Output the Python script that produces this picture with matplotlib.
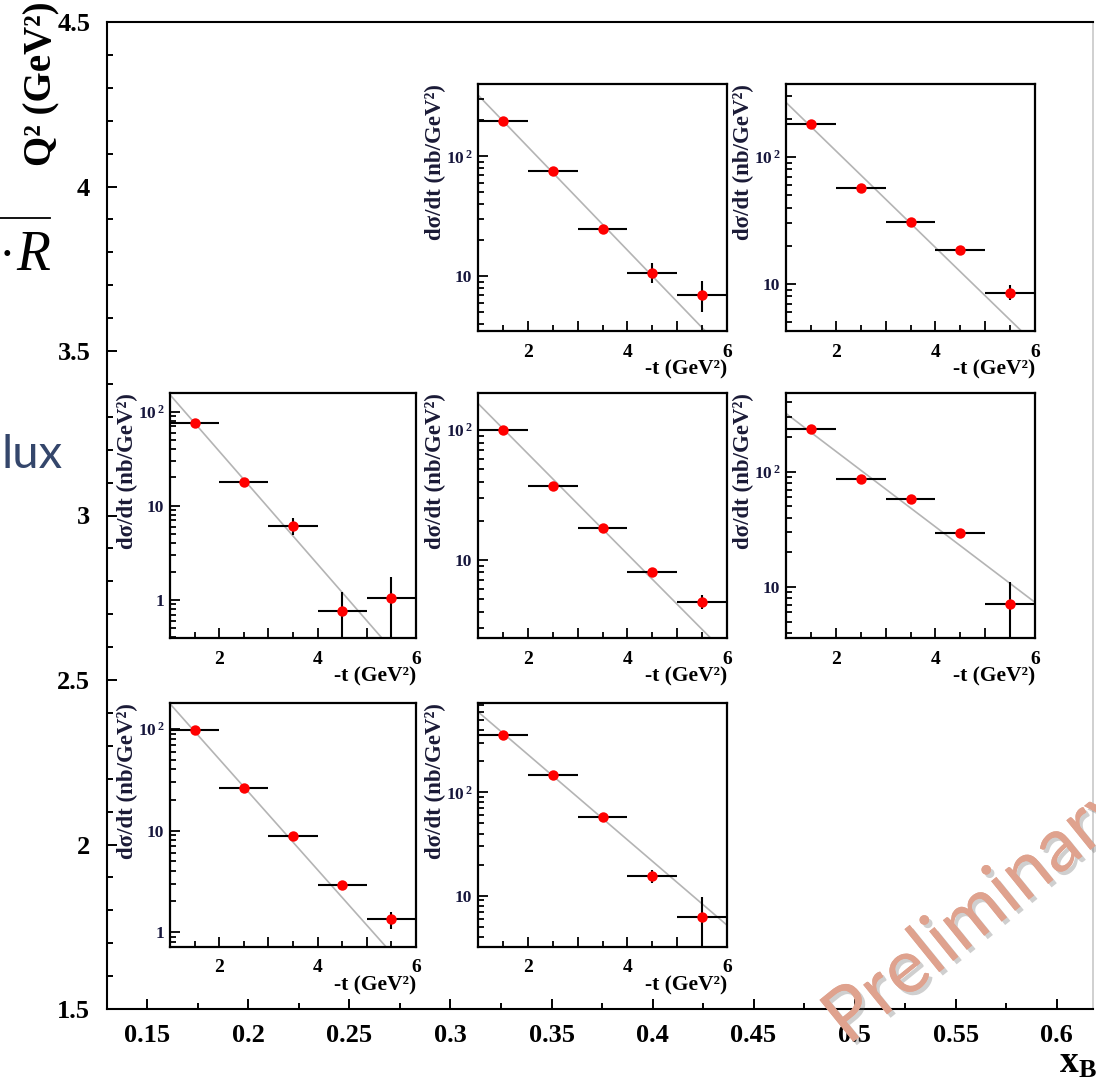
import numpy as np
import matplotlib.pyplot as plt
from matplotlib import patheffects
from matplotlib.lines import Line2D
from matplotlib.ticker import MultipleLocator, LogLocator, FuncFormatter, NullFormatter

plt.rcParams['font.family'] = 'Liberation Serif'
plt.rcParams['font.weight'] = 'bold'
plt.rcParams['axes.labelweight'] = 'bold'
plt.rcParams['mathtext.fontset'] = 'custom'
plt.rcParams['mathtext.rm'] = 'Liberation Serif:bold'
plt.rcParams['mathtext.bf'] = 'Liberation Serif:bold'
plt.rcParams['mathtext.it'] = 'Liberation Serif:italic:bold'

W, H = 1096, 1079

# -t bins (GeV^2)
t_mid = [1.5, 2.5, 3.5, 4.5, 5.5]
t_half = [0.5, 0.5, 0.5, 0.5, 0.5]

# dsigma/dt (nb/GeV^2), one list per (xB, Q2) bin, with asymmetric errors
# high Q2 row
xs_q4_x35 = [196, 75.5, 24.8, 10.7, 7.0]
lo_q4_x35 = [6, 2.5, 1.2, 1.9, 2.0]
hi_q4_x35 = [6, 2.5, 1.2, 2.1, 2.1]

xs_q4_x50 = [183, 57.3, 30.9, 18.5, 8.55]
lo_q4_x50 = [5, 2, 1, 0.8, 1.05]
hi_q4_x50 = [5, 2, 1, 0.8, 1.25]

# middle Q2 row
xs_q3_x20 = [76.4, 18.0, 6.12, 0.77, 1.04]
lo_q3_x20 = [2.5, 0.8, 1.2, 0.6, 0.85]
hi_q3_x20 = [2.5, 0.8, 1.3, 0.45, 0.73]

xs_q3_x35 = [100, 37, 17.6, 8.1, 4.75]
lo_q3_x35 = [3, 1.2, 0.6, 0.4, 0.55]
hi_q3_x35 = [3, 1.2, 0.6, 0.4, 0.65]

xs_q3_x50 = [235, 87, 58.4, 29.3, 7.13]
lo_q3_x50 = [6, 2.5, 1.6, 0.9, 4.5]
hi_q3_x50 = [6, 2.5, 1.6, 0.9, 3.8]

# low Q2 row
xs_q2_x20 = [98, 26.4, 8.78, 2.91, 1.35]
lo_q2_x20 = [3, 0.8, 0.3, 0.12, 0.29]
hi_q2_x20 = [3, 0.8, 0.3, 0.12, 0.23]

xs_q2_x35 = [361, 146, 57.5, 15.5, 6.28]
lo_q2_x35 = [10, 4, 1.8, 2.3, 3.5]
hi_q2_x35 = [10, 4, 1.8, 2.4, 3.5]

# exponential fits A * exp(-b * |t|)
fit_A = [873, 647, 603, 391, 681, 625, 1560]
fit_b = [0.992, 0.877, 1.382, 0.891, 0.755, 1.257, 0.951]

# y ranges of the insets
ylims = [(3.5, 400), (4.26, 376), (0.394, 158), (2.5, 193),
         (3.6, 482), (0.71, 181), (3.19, 733)]

panel_data = [
    (xs_q4_x35, lo_q4_x35, hi_q4_x35),
    (xs_q4_x50, lo_q4_x50, hi_q4_x50),
    (xs_q3_x20, lo_q3_x20, hi_q3_x20),
    (xs_q3_x35, lo_q3_x35, hi_q3_x35),
    (xs_q3_x50, lo_q3_x50, hi_q3_x50),
    (xs_q2_x20, lo_q2_x20, hi_q2_x20),
    (xs_q2_x35, lo_q2_x35, hi_q2_x35),
]

# inset frames in pixels (left, top, right, bottom)
col_x = [(170, 416), (478, 727), (786, 1035)]
row_y = [(84, 331), (393, 638), (703, 947)]
panel_slots = [(0, 1), (0, 2), (1, 0), (1, 1), (1, 2), (2, 0), (2, 1)]


def px_rect(x0, y0, x1, y1):
    return [x0 / W, 1 - y1 / H, (x1 - x0) / W, (y1 - y0) / H]


fig = plt.figure(figsize=(W / 100, H / 100), dpi=100)

# main xB - Q2 frame
ax = fig.add_axes(px_rect(107, 22, 1093, 1009))
ax.set_xlim(0.13, 0.618)
ax.set_ylim(1.5, 4.5)
ax.xaxis.set_major_locator(MultipleLocator(0.05))
ax.xaxis.set_minor_locator(MultipleLocator(0.025))
ax.yaxis.set_major_locator(MultipleLocator(0.5))
ax.yaxis.set_minor_locator(MultipleLocator(0.1))
ax.xaxis.set_major_formatter(FuncFormatter(lambda v, p: '%g' % round(v, 3)))
ax.yaxis.set_major_formatter(FuncFormatter(lambda v, p: '%g' % round(v, 3)))
ax.tick_params(which='both', direction='in', top=False, right=False, width=1.4,
               labelsize=19)
ax.tick_params(which='major', length=7)
ax.tick_params(which='minor', length=4)
ax.tick_params(axis='x', pad=11)
ax.tick_params(axis='y', pad=12)
for s in ['left', 'bottom', 'top']:
    ax.spines[s].set_linewidth(1.5)
ax.spines['right'].set_color('#c8c8c8')
ax.spines['right'].set_linewidth(1.2)

fig.text(42 / W, 1 - 1 / H, 'Q² (GeV²)', rotation=90, ha='center', va='top',
         fontsize=28)
fig.text(1097 / W, 1 - 1073 / H, r'$\mathbf{x_{B}}$', ha='right', va='baseline',
         fontsize=27)


def ylab(v, pos):
    if np.isclose(v, 1):
        return '1'
    if np.isclose(v, 10):
        return '10'
    if np.isclose(v, 100):
        return r'$\mathbf{10^{\,2}}$'
    return ''


t_line = np.linspace(1, 6, 200)
for k, (r, c) in enumerate(panel_slots):
    vals, lo, hi = panel_data[k]
    (x0, x1), (y0, y1) = col_x[c], row_y[r]
    pa = fig.add_axes(px_rect(x0, y0, x1, y1))
    pa.set_yscale('log')
    pa.set_xlim(1, 6)
    pa.set_ylim(*ylims[k])

    pa.plot(t_line, fit_A[k] * np.exp(-fit_b[k] * t_line), color='#b4b4b4',
            lw=1.2, zorder=1)
    pa.errorbar(t_mid, vals, xerr=t_half, yerr=[lo, hi], fmt='o', color='red',
                markersize=7.5, markeredgewidth=0, ecolor='black', elinewidth=1.5,
                capsize=0, zorder=3)

    pa.xaxis.set_major_locator(MultipleLocator(1))
    pa.xaxis.set_minor_locator(MultipleLocator(0.5))
    pa.xaxis.set_major_formatter(
        FuncFormatter(lambda v, p: '%d' % v if int(round(v)) % 2 == 0 else ''))
    pa.yaxis.set_major_locator(LogLocator(base=10, numticks=10))
    pa.yaxis.set_minor_locator(LogLocator(base=10, subs=np.arange(2, 10), numticks=10))
    pa.yaxis.set_major_formatter(FuncFormatter(ylab))
    pa.yaxis.set_minor_formatter(NullFormatter())
    pa.tick_params(which='both', direction='in', top=False, right=False, width=1.3)
    pa.tick_params(which='major', length=7)
    pa.tick_params(which='minor', length=4)
    pa.tick_params(axis='x', labelsize=14, pad=9)
    pa.tick_params(axis='y', labelsize=12.5, pad=4, labelcolor='#16163c')
    for s in pa.spines.values():
        s.set_linewidth(1.6)

    pa.set_ylabel('dσ/dt (nb/GeV²)', fontsize=16.5, loc='top', color='#1a1a36')
    pa.yaxis.set_label_coords(-0.13, 1.0)
    pa.set_xlabel('-t (GeV²)', fontsize=15.5, loc='right')
    pa.xaxis.set_label_coords(1.0, -0.115)

# fragments of the surrounding slide
fig.add_artist(Line2D([0, 50 / W], [1 - 218 / H] * 2, color='black', lw=1.3))
fig.text(-1 / W, 1 - 270 / H, '·', fontsize=36, weight='normal',
         ha='left', va='baseline')
fig.text(16 / W, 1 - 270 / H, 'R', fontsize=40, style='italic', weight='normal',
         ha='left', va='baseline')
fig.text(63 / W, 1 - 468 / H, 'lux', fontsize=34, family='Lato', weight='normal',
         color='#34466b', ha='right', va='baseline')

fig.text(848 / W, 1 - 1046 / H, 'Preliminary', rotation=39, rotation_mode='anchor',
         ha='left', va='baseline', fontsize=54, family='Lato', weight='normal',
         color='#dfa28e',
         path_effects=[patheffects.withSimplePatchShadow(offset=(2.5, -2.5),
                                                         shadow_rgbFace='#606060',
                                                         alpha=0.3),
                       patheffects.Normal()])

fig.savefig('out.png', dpi=100)
